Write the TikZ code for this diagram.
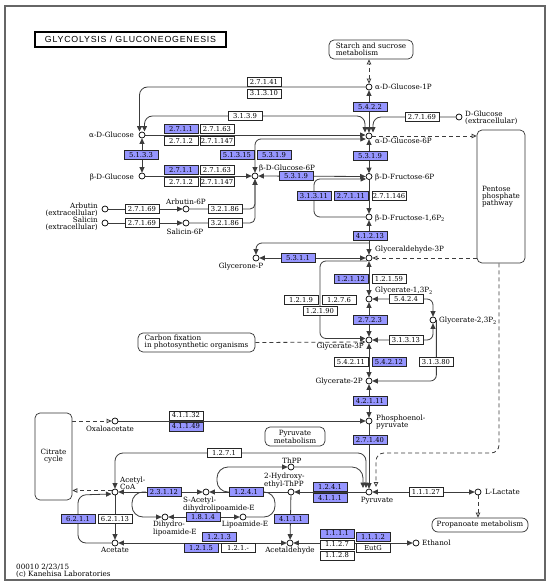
\documentclass[tikz,border=0pt]{standalone}
\usepackage{fontspec}
\setmainfont{DejaVu Serif}
\newfontfamily\ktitlefont[LetterSpace=9]{Liberation Sans}
\usetikzlibrary{arrows.meta,calc}
\pgfdeclarelayer{bgl}
\pgfsetlayers{bgl,main}
\definecolor{kblue}{RGB}{150,150,255}
\definecolor{kline}{RGB}{60,60,60}
\newcommand\kecf{\fontsize{6.8}{7}\selectfont}
\newcommand\kcpf{\fontsize{7.2}{7}\selectfont}
\begin{document}
\begin{tikzpicture}[x=1pt,y=-1pt,
 ec/.style={draw=black!85, line width=0.6pt, fill=white, minimum width=34pt, minimum height=9pt, inner sep=0pt, font=\kecf},
 ecb/.style={ec, fill=kblue},
 cpd/.style={circle, draw=black, fill=white, minimum size=6pt, inner sep=0pt, line width=0.7pt},
 lb/.style={font=\kcpf, inner sep=0pt, align=left},
 ln/.style={draw=kline, line width=0.8pt},
 ar/.style={ln, -{Triangle[length=5.5pt,width=5pt]}},
 ab/.style={ln, {Triangle[length=5.5pt,width=5pt]}-{Triangle[length=5.5pt,width=5pt]}},
 dsh/.style={draw=kline, line width=0.8pt, dash pattern=on 4pt off 3pt},
 oa/.style={dsh, -{Triangle[open,length=5pt,width=4.5pt]}},
 oab/.style={dsh, {Triangle[open,length=5pt,width=4.5pt]}-{Triangle[open,length=5pt,width=4.5pt]}},
 map/.style={draw=black!80, line width=0.7pt, rounded corners=5pt, fill=white, inner sep=0pt, font=\kcpf, align=left},
]
\useasboundingbox (0,0) rectangle (550,586);

% ---------- title and maps
\node[draw=black, line width=1.2pt, minimum width=191pt, minimum height=15pt, inner sep=0pt, font=\ktitlefont\fontsize{8.8}{9}\selectfont] (title) at (130.5,39.5) {GLYCOLYSIS / GLUCONEOGENESIS};
\node[map, minimum width=84pt, minimum height=19pt] (starch) at (371,49.5) {Starch and sucrose\\metabolism};
\node[map, minimum width=48pt, minimum height=133pt] (pentose) at (501,196.5) {Pentose\\phosphate\\pathway};
\node[map, minimum width=117pt, minimum height=19pt] (carbon) at (196.5,342.5) {Carbon fixation\\in photosynthetic organisms};
\node[map, minimum width=37pt, minimum height=87pt, align=center] (citrate) at (53.5,456.5) {Citrate\\cycle};
\node[map, minimum width=60pt, minimum height=19pt, align=center] (pyrmet) at (295,436.5) {Pyruvate\\metabolism};
\node[map, minimum width=96pt, minimum height=14pt, rounded corners=6pt] (prop) at (480,525) {Propanoate metabolism};

% ---------- compounds
\node[cpd] (g1p) at (369,87) {};
\node[cpd] (ag) at (142,135) {};
\node[cpd] (g6p) at (369,136) {};
\node[cpd] (dglc) at (459,117) {};
\node[cpd] (bg) at (142,176) {};
\node[cpd] (bg6p) at (255,176) {};
\node[cpd] (f6p) at (369,176.5) {};
\node[cpd] (arb) at (105,209) {};
\node[cpd] (arb6p) at (186,209) {};
\node[cpd] (sal) at (105,223) {};
\node[cpd] (sal6p) at (186,223) {};
\node[cpd] (fbp) at (369,217) {};
\node[cpd] (gap) at (369,258) {};
\node[cpd] (dhap) at (256,258) {};
\node[cpd] (bpg13) at (369,299) {};
\node[cpd] (bpg23) at (433,320) {};
\node[cpd] (pg3) at (369,340) {};
\node[cpd] (pg2) at (369,381) {};
\node[cpd] (pep) at (369,421) {};
\node[cpd] (oaa) at (115,421) {};
\node[cpd] (pyr) at (369,492) {};
\node[cpd] (lac) at (478,492) {};
\node[cpd] (accoa) at (115,492) {};
\node[cpd] (sadl) at (206,492) {};
\node[cpd] (hetpp) at (291,492) {};
\node[cpd] (thpp) at (291,467) {};
\node[cpd] (dhl) at (165,517) {};
\node[cpd] (lip) at (243,517) {};
\node[cpd] (acetate) at (115,543) {};
\node[cpd] (acald) at (290,543) {};
\node[cpd] (etoh) at (416,543) {};

% ---------- compound labels
\node[lb, anchor=west] (l1) at (375,87) {α-D-Glucose-1P};
\node[lb, anchor=east] (l2) at (134,135) {α-D-Glucose};
\node[lb, anchor=west] (l3) at (375,141) {α-D-Glucose-6P};
\node[lb, anchor=west] (l4) at (465,117.5) {D-Glucose\\(extracellular)};
\node[lb, anchor=east] (l5) at (134,177) {β-D-Glucose};
\node[lb, anchor=west] (l6) at (259,168) {β-D-Glucose-6P};
\node[lb, anchor=west] (l7) at (375,177) {β-D-Fructose-6P};
\node[lb, anchor=east, align=right] (l8) at (98,209.5) {Arbutin\\(extracellular)};
\node[lb] (l9) at (186,202) {Arbutin-6P};
\node[lb, anchor=east, align=right] (l10) at (98,224) {Salicin\\(extracellular)};
\node[lb] (l11) at (185,231.5) {Salicin-6P};
\node[lb, anchor=west] (l12) at (375,218) {β-D-Fructose-1,6P\textsubscript{2}};
\node[lb, anchor=west] (l13) at (375,250) {Glyceraldehyde-3P};
\node[lb] (l14) at (241,267) {Glycerone-P};
\node[lb, anchor=west] (l15) at (375,291) {Glycerate-1,3P\textsubscript{2}};
\node[lb, anchor=west] (l16) at (439,321) {Glycerate-2,3P\textsubscript{2}};
\node[lb, anchor=east] (l17) at (364,347) {Glycerate-3P};
\node[lb, anchor=east] (l18) at (363,382) {Glycerate-2P};
\node[lb, anchor=west] (l19) at (376,422) {Phosphoenol-\\pyruvate};
\node[lb] (l20) at (110,429) {Oxaloacetate};
\node[lb] (l21) at (377,501) {Pyruvate};
\node[lb, anchor=west] (l22) at (485,492) {L-Lactate};
\node[lb, anchor=west] (l23) at (120,483) {Acetyl-\\CoA};
\node[lb, anchor=north west] (l24) at (183,496.5) {S-Acetyl-\\dihydrolipoamide-E};
\node[lb, anchor=west] (l25) at (264,481) {2-Hydroxy-\\ethyl-ThPP};
\node[lb] (l26) at (292,461) {ThPP};
\node[lb, anchor=north west] (l27) at (153,521) {Dihydro-\\lipoamide-E};
\node[lb] (l28) at (245,525) {Lipoamide-E};
\node[lb] (l29) at (115,550) {Acetate};
\node[lb] (l30) at (290,551) {Acetaldehyde};
\node[lb, anchor=west] (l31) at (422,543) {Ethanol};
\node[lb, anchor=west] (f1) at (16,567) {00010 2/23/15};
\node[lb, anchor=west] (f2) at (16,574) {(c) Kanehisa Laboratories};

% ---------- enzyme boxes
\node[ec] (e2741) at (264,82) {2.7.1.41};
\node[ec] (e31310) at (264,93.5) {3.1.3.10};
\node[ec] (e3139) at (245,116) {3.1.3.9};
\node[ecb] (e5422) at (370,107) {5.4.2.2};
\node[ec] (e2769a) at (422,117) {2.7.1.69};
\node[ecb] (e2711a) at (181,129) {2.7.1.1};
\node[ec] (e27163a) at (217,129) {2.7.1.63};
\node[ec] (e2712a) at (181,141) {2.7.1.2};
\node[ec] (e271147a) at (217,141) {2.7.1.147};
\node[ecb] (e5133) at (141,155) {5.1.3.3};
\node[ecb] (e51315) at (237,155) {5.1.3.15};
\node[ecb] (e5319a) at (274,155) {5.3.1.9};
\node[ecb] (e5319b) at (370,156) {5.3.1.9};
\node[ecb] (e2711b) at (181,170) {2.7.1.1};
\node[ec] (e27163b) at (217,170) {2.7.1.63};
\node[ec] (e2712b) at (181,182) {2.7.1.2};
\node[ec] (e271147b) at (217,182) {2.7.1.147};
\node[ecb] (e5319c) at (296,176) {5.3.1.9};
\node[ec] (e2769b) at (142,209) {2.7.1.69};
\node[ec] (e32186a) at (225,209) {3.2.1.86};
\node[ec] (e2769c) at (142,223) {2.7.1.69};
\node[ec] (e32186b) at (225,223) {3.2.1.86};
\node[ecb] (e31311) at (314,196) {3.1.3.11};
\node[ecb] (e27111) at (351,196) {2.7.1.11};
\node[ec] (e271146) at (389,196) {2.7.1.146};
\node[ecb] (e41213) at (370,236) {4.1.2.13};
\node[ecb] (e5311) at (298,258) {5.3.1.1};
\node[ecb] (e12112) at (351,279) {1.2.1.12};
\node[ec] (e12159) at (389,279) {1.2.1.59};
\node[ec] (e1219) at (301,300) {1.2.1.9};
\node[ec] (e1276) at (339,300) {1.2.7.6};
\node[ec] (e12190) at (320,311) {1.2.1.90};
\node[ec] (e5424) at (406,299) {5.4.2.4};
\node[ecb] (e2723) at (370,320) {2.7.2.3};
\node[ec] (e31313) at (406,340) {3.1.3.13};
\node[ec] (e54211) at (351,362) {5.4.2.11};
\node[ecb] (e54212) at (389,362) {5.4.2.12};
\node[ec] (e31380) at (436,362) {3.1.3.80};
\node[ecb] (e42111) at (370,401) {4.2.1.11};
\node[ec] (e41132) at (186,415.5) {4.1.1.32};
\node[ecb] (e41149) at (186,426.5) {4.1.1.49};
\node[ecb] (e27140) at (370,440) {2.7.1.40};
\node[ec] (e1271) at (224,453) {1.2.7.1};
\node[ecb] (e23112) at (164,492) {2.3.1.12};
\node[ecb] (e1241a) at (246,492) {1.2.4.1};
\node[ecb] (e1241b) at (330,487) {1.2.4.1};
\node[ecb] (e4111a) at (330,498) {4.1.1.1};
\node[ecb] (e1814) at (203,517) {1.8.1.4};
\node[ecb] (e6211) at (78,519) {6.2.1.1};
\node[ec] (e62113) at (115,519) {6.2.1.13};
\node[ecb] (e4111b) at (291,519) {4.1.1.1};
\node[ec] (e11127) at (426,492) {1.1.1.27};
\node[ecb] (e1213) at (219,537) {1.2.1.3};
\node[ecb] (e1215) at (201,548) {1.2.1.5};
\node[ec] (e121x) at (238,548) {1.2.1.-};
\node[ecb] (e1111) at (337,533.5) {1.1.1.1};
\node[ec] (e1127) at (337,544.5) {1.1.2.7};
\node[ec] (e1128) at (337,555.5) {1.1.2.8};
\node[ecb] (e1112) at (373,537) {1.1.1.2};
\node[ec] (eeutg) at (373,548) {EutG};

% ---------- free ends
\coordinate (j1) at (369,243);
\coordinate (t1) at (232,492);
\coordinate (t2) at (146,492);
\coordinate (t3) at (262,492);

\begin{pgfonlayer}{bgl}
\fill[white] (0,0) rectangle (550,586);
\draw[black!60, line width=1.5pt] (5,6) rectangle (545,580);
% top part
\draw[oab] (g1p) -- (g1p |- starch.south);
\draw[ar, rounded corners=8pt] (g1p.west) -| ($(ag)+(-2.5,-3.5)$);
\draw[ab, rounded corners=8pt] ($(ag)+(2.5,-3.5)$) |- (e3139.center) -| ($(g6p)+(-4,-3.5)$);
\draw[ab] (g1p) -- (g6p);
\draw[ar, rounded corners=8pt] (dglc.west) -| ($(g6p)+(4,-3.5)$);
\draw[ar] (ag.east) -- ($(g6p)+(-3.5,-1)$);
\draw[ab, rounded corners=6pt] (bg6p.north) |- ($(g6p)+(-3.2,3)$);
\draw[ab] (ag) -- (bg);
\draw[ar] (bg) -- (bg6p);
\draw[ab] (bg6p) -- (f6p);
\draw[ab] (g6p) -- (f6p);
\draw[ar] (arb) -- (arb6p);
\draw[ar] (sal) -- (sal6p);
\draw[ar, rounded corners=5pt] (arb6p.east) -| (bg6p.south);
\draw[ar, rounded corners=5pt] (sal6p.east) -| (bg6p.south);
\draw[ar] (f6p) -- (fbp);
\draw[ar, rounded corners=6pt] (fbp.west) -| (e31311.center) |- ($(f6p)+(-3,2.5)$);
\draw[ab] (fbp) -- (gap);
\draw[ar, rounded corners=6pt] (j1) -| (dhap.north);
\draw[ab] (dhap) -- (gap);
\draw[oa] (g6p) -- (g6p -| pentose.west);
\draw[oa] (gap -| pentose.west) -- (gap);
\draw[oa, rounded corners=8pt] ($(pentose.south)+(-2,0)$) |- ($(pyr)+(7,-39)$) -- ($(pyr)+(7,-5)$);
% lower glycolysis
\draw[ab] (gap) -- (bpg13);
\draw[ar, rounded corners=6pt] ($(gap)+(-2,3)$) -| (e12190.center) |- ($(pg3)+(-3.5,-1.5)$);
\draw[oa] (carbon.east) -- ($(pg3)+(-3.5,2)$);
\draw[ab] (bpg13) -- (pg3);
\draw[ab, rounded corners=6pt] (bpg13.east) -| (bpg23.north);
\draw[ab, rounded corners=6pt] (bpg23.south) |- (pg3.east);
\draw[ar, rounded corners=6pt] (bpg23.east) |- (pg2.east);
\draw[ab] (pg3) -- (pg2);
\draw[ab] (pg2) -- (pep);
\draw[ar] (oaa) -- (pep);
\draw[oa] (citrate.east |- oaa) -- (oaa);
\draw[ar] (pep) -- (pyr);
\draw[ab, rounded corners=8pt] (accoa.north) |- (e1271.center) -| ($(pyr)+(-3,-4)$);
% pyruvate dehydrogenase loops
\draw[ar, rounded corners=11pt] (t1) -- (217,492) -- (217,467) -- (thpp.west);
\draw[ar, rounded corners=11pt] (thpp.east) -| ($(pyr)+(-6,-4)$);
\draw[ar] (pyr) -- (hetpp);
\draw[ar] (hetpp) -- (sadl);
\draw[ab] (sadl) -- (accoa);
\draw[ar, rounded corners=11pt] (t2) -- (132,492) -- (132,517) -- (dhl);
\draw[ab] (dhl) -- (lip);
\draw[ln, rounded corners=11pt] (lip) -- (275,517) -- (275,492) -- (t3);
\draw[ar] (hetpp) -- (acald);
\draw[ab] (acald) -- (acetate);
\draw[ab] (acald) -- (etoh);
\draw[ar] (accoa) -- (acetate);
\draw[ar, rounded corners=8pt] (acetate.west) -| (78,495) -- ($(accoa)+(-3.5,2)$);
\draw[oa] ($(accoa.west)+(0,-1.5)$) -- ($(citrate.east |- accoa)+(0,-1.5)$);
\draw[ab] (pyr) -- (lac);
\draw[oa] (lac) -- (lac |- prop.north);
\end{pgfonlayer}
\end{tikzpicture}
\end{document}
